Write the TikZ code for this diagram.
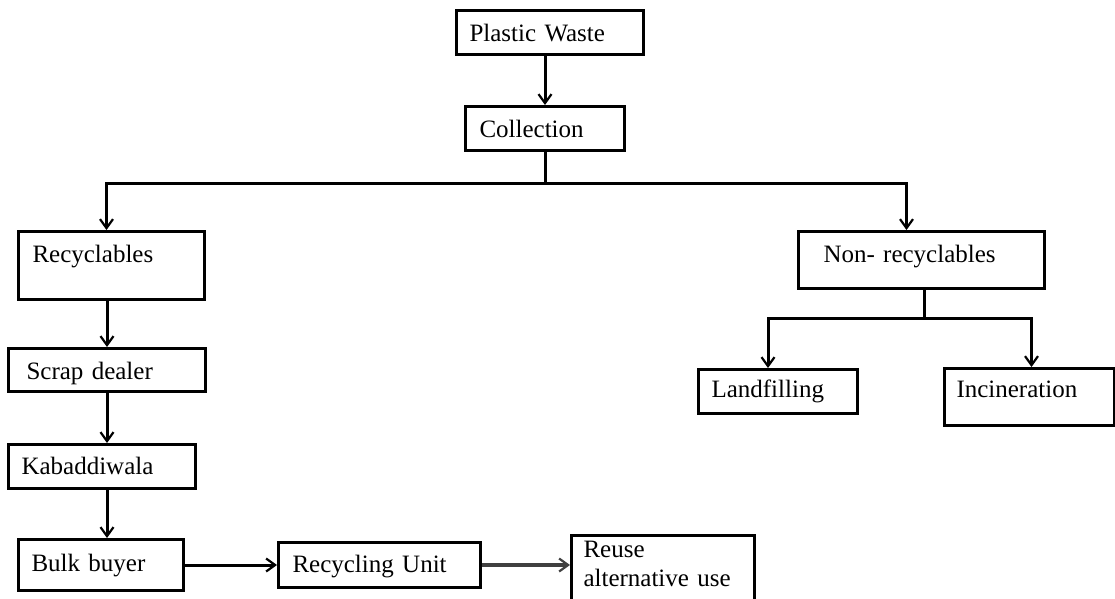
\documentclass[tikz,border=0pt]{standalone}
\usepackage{fontspec}
\setmainfont{Liberation Serif}
\usetikzlibrary{arrows.meta}
\begin{document}
\begin{tikzpicture}[x=1pt, y=-1pt, font=\fontsize{25}{29}\selectfont,
		box/.style={draw, line width=3pt, anchor=north west, inner ysep=0pt, inner xsep=13pt, align=left},
		arrow/.style={line width=3pt, -{Straight Barb[length=9pt, width=13pt, line width=2.2pt]}},
		link/.style={line width=3pt}]
		\useasboundingbox (0,0) rectangle (1115,598);
		
		\node[box, text width=161pt, text height=31pt, text depth=13pt] (waste) at (455,9) {Plastic Waste};
		\node[box, inner xsep=14pt, text width=131pt, text height=31pt, text depth=13pt] (collect) at (464,105) {Collection};
		\node[box, inner xsep=14pt, text width=158pt, text height=31pt, text depth=37pt] (recyc) at (17,230) {Recyclables};
		\node[box, inner xsep=25pt, text width=196pt, text height=31pt, text depth=26pt] (nonrec) at (797,230) {Non- recyclables};
		\node[box, inner xsep=18pt, text width=161pt, text height=31pt, text depth=12pt] (scrap) at (7,347) {Scrap dealer};
		\node[box, text width=161pt, text height=30pt, text depth=14pt] (kabad) at (7,443) {Kabaddiwala};
		\node[box, text width=139pt, text height=32pt, text depth=19pt] (bulk) at (17,538) {Bulk buyer};
		\node[box, inner xsep=14pt, text width=174pt, text height=30pt, text depth=15pt] (recunit) at (277,541) {Recycling Unit};
		\node[box, inner xsep=12pt, text width=159pt, text height=22pt, text depth=47pt] (reuse) at (570,534) {Reuse\\alternative use};
		\node[box, text width=133pt, text height=28pt, text depth=16pt] (landfill) at (697,368) {Landfilling};
		\node[box, inner xsep=12pt, text width=146pt, text height=29pt, text depth=28pt] (incin) at (943,367) {Incineration};
		
		\coordinate (split) at (collect.south |- 0,183);
		\coordinate (nsplit) at (924,318);
		
		\draw[arrow] (waste.south -| collect.north) -- (collect.north);
		\draw[link] (collect.south) -- (split);
		\draw[arrow] (split) -| ([xshift=-5pt]recyc.north);
		\draw[arrow] (split) -| ([xshift=-15pt]nonrec.north);
		\draw[arrow] (recyc.south -| scrap.north) -- (scrap.north);
		\draw[arrow] (scrap.south) -- (scrap.south |- kabad.north);
		\draw[arrow] (kabad.south -| scrap.south) -- (bulk.north -| scrap.south);
		\draw[arrow] (bulk.east) -- (recunit.west);
		\draw[arrow, line width=4pt, black!75] (recunit.east) -- (recunit.east -| reuse.west);
		\draw[link] (nonrec.south -| nsplit) -- (nsplit);
		\draw[arrow] (nsplit) -| ([xshift=-10pt]landfill.north);
		\draw[arrow] (nsplit) -| ([xshift=2pt]incin.north);
		
	\end{tikzpicture}
\end{document}
